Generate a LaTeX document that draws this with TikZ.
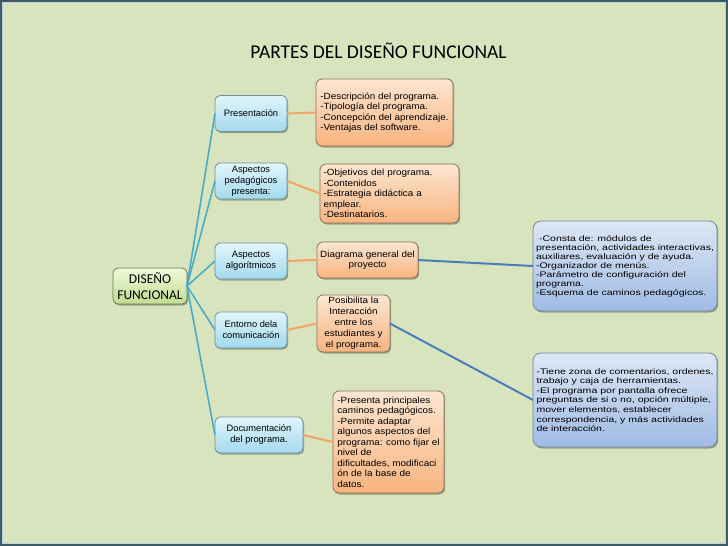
\documentclass[tikz,border=0pt]{standalone}
\usepackage{fontspec}
\setmainfont{Liberation Sans}
\newfontfamily\calib{Carlito}
\newfontfamily\fA{Liberation Sans}
\newfontfamily\fB[FakeStretch=1.1]{Liberation Sans}
\newfontfamily\fC[FakeStretch=1.3]{Liberation Sans}
\usetikzlibrary{shadows}
\definecolor{bg}{HTML}{D7E4BD}
\definecolor{frame}{HTML}{3D5A66}
\definecolor{frameIn}{HTML}{B9D2DC}
\definecolor{sbt}{HTML}{E2F5FB}
\definecolor{sbb}{HTML}{A2D9EE}
\definecolor{sbd}{HTML}{6F909C}
\definecolor{ot}{HTML}{FDE6D2}
\definecolor{ob}{HTML}{F8B47F}
\definecolor{od}{HTML}{8C6F5C}
\definecolor{rbt}{HTML}{DDE7F5}
\definecolor{rbb}{HTML}{9FBBE4}
\definecolor{rbd}{HTML}{75849A}
\definecolor{gt}{HTML}{F1F8DA}
\definecolor{gb}{HTML}{C0DD90}
\definecolor{gd}{HTML}{6A7A55}
\definecolor{teal}{HTML}{4BACC6}
\definecolor{oline}{HTML}{F2A463}
\definecolor{bline}{HTML}{4A7EBB}
\tikzset{
  boxbase/.style={rounded corners=5pt, draw, line width=0.8pt, inner sep=0pt, outer sep=0pt,
    drop shadow={shadow xshift=1.2pt, shadow yshift=-1.5pt, opacity=0.3, fill=black}},
  sblue/.style={boxbase, draw=sbd, top color=sbt, bottom color=sbb, minimum height=36pt,
    minimum width=72pt, align=center, font=\fA\fontsize{9.3}{11}\selectfont},
  orabox/.style={boxbase, rounded corners=6pt, draw=od, top color=ot, bottom color=ob,
    font=\fB\fontsize{9}{10.5}\selectfont},
  rblue/.style={boxbase, rounded corners=8pt, draw=rbd, top color=rbt, bottom color=rbb,
    align=left, font=\fC\fontsize{8.1}{9}\selectfont},
  greenbox/.style={boxbase, draw=gd, top color=gt, bottom color=gb, align=center,
    font=\calib\fontsize{13.5}{16}\selectfont},
  tline/.style={teal, line width=1.6pt},
  oln/.style={oline, line width=2pt},
  bln/.style={bline, line width=2pt}
}
\begin{document}
\begin{tikzpicture}[x=1pt,y=-1pt]
\fill[bg] (0,0) rectangle (728,546);
\useasboundingbox (0,0) rectangle (728,546);
\draw[frameIn, line width=1pt] (2.5,2.5) rectangle (725.5,543.5);
\draw[frame, line width=2pt] (1,1) rectangle (727,545);

\node[font=\calib\fontsize{19.5}{23}\selectfont] (title) at (378.5,51) {PARTES DEL DISEÑO FUNCIONAL};

\node[greenbox, minimum width=74pt, minimum height=36pt] (dis) at (150,286) {DISEÑO\\FUNCIONAL};

\node[sblue] (pres) at (251,113.5) {Presentación};
\node[sblue] (ped) at (251,181) {Aspectos\\pedagógicos\\presenta:};
\node[sblue] (alg) at (251,261) {Aspectos\\algorítmicos};
\node[sblue] (ent) at (251,330) {Entorno dela\\comunicación};
\node[sblue, minimum width=88pt] (doc) at (259,435) {Documentación\\del programa.};

\node[orabox, align=left, minimum width=137pt, minimum height=67pt] (o1) at (384.5,112.5)
 {-Descripción del programa.\\-Tipología del programa.\\-Concepción del aprendizaje.\\-Ventajas del software.};
\node[orabox, align=left, text width=132pt, minimum width=139pt, minimum height=59pt] (o2) at (389.5,193.5)
 {-Objetivos del programa.\\-Contenidos\\-Estrategia didáctica a\\emplear.\\-Destinatarios.};
\node[orabox, align=center, minimum width=101pt, minimum height=36pt] (o3) at (367.5,260)
 {Diagrama general del\\proyecto};
\node[orabox, align=center, font=\fB\fontsize{9}{11}\selectfont, minimum width=73pt, minimum height=57pt] (o4) at (353.5,323.5)
 {Posibilita la\\Interacción\\entre los\\estudiantes y\\el programa.};
\node[orabox, align=left, minimum width=111pt, minimum height=102pt] (o5) at (388.5,442)
 {-Presenta principales\\caminos pedagógicos.\\-Permite adaptar\\algunos aspectos del\\programa: como fijar el\\nivel de\\dificultades, modificaci\\ón de la base de\\datos.};

\node[rblue, minimum width=184pt, minimum height=90pt] (b6) at (625,266)
 {\hspace*{3pt}-Consta de: módulos de\\presentación, actividades interactivas,\\auxiliares, evaluación y de ayuda.\\-Organizador de menús.\\-Parámetro de configuración del\\programa.\\-Esquema de caminos pedagógicos.};
\node[rblue, font=\fC\fontsize{8.1}{9.6}\selectfont, minimum width=184pt, minimum height=94pt] (b7) at (625,400)
 {-Tiene zona de comentarios, ordenes,\\trabajo y caja de herramientas.\\-El programa por pantalla ofrece\\preguntas de si o no, opción múltiple,\\mover elementos, establecer\\correspondencia, y más actividades\\de interacción.};

\draw[tline] (dis.east) -- (pres.west);
\draw[tline] (dis.east) -- (ped.west);
\draw[tline] (dis.east) -- (alg.west);
\draw[tline] (dis.east) -- (ent.west);
\draw[tline] (dis.east) -- (doc.west);

\draw[oln] (pres.east) -- (o1.west);
\draw[oln] (ped.east) -- (o2.west);
\draw[oln] (alg.east) -- (o3.west);
\draw[oln] (ent.east) -- (o4.west);
\draw[oln] (doc.east) -- (o5.west);

\draw[bln] (o3.east) -- (b6.west);
\draw[bln] (o4.east) -- (b7.west);
\end{tikzpicture}
\end{document}
